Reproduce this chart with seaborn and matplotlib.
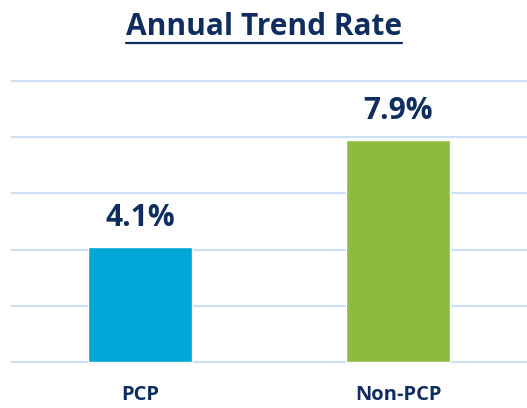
import pandas as pd
import seaborn as sns
import matplotlib.pyplot as plt

sns.set_style("white")
plt.rcParams['font.family'] = ['Open Sans', 'DejaVu Sans']

# values (percent)
groups = ["PCP", "Non-PCP"]
trend = [4.1, 7.9]
labels = ["4.1%", "7.9%"]
bar_colors = ["#00A6D6", "#8DBB3F"]
grid_ticks = [0, 2, 4, 6, 8, 10]

navy = "#0F2D5F"
df = pd.DataFrame({"group": groups, "trend": trend})

fig = plt.figure(figsize=(5.27, 4.08), dpi=100)
ax = fig.add_axes([0.021, 0.106, 0.979, 0.702])

sns.barplot(data=df, x="group", y="trend", hue="group", palette=bar_colors,
            width=0.4, saturation=1, legend=False, ax=ax, zorder=3)

ax.set_xlim(-0.5, 1.5)
ax.set_ylim(-0.1, 10.1)
ax.set_yticks(grid_ticks)
ax.yaxis.grid(True, color="#CCE0F7", linewidth=1.6, zorder=0)
ax.set_axisbelow(True)
ax.tick_params(axis="y", left=False, labelleft=False)
ax.tick_params(axis="x", bottom=False, pad=11)
for lbl in ax.get_xticklabels():
    lbl.set_fontsize(14.5)
    lbl.set_fontweight("bold")
    lbl.set_color(navy)
ax.set_xlabel("")
ax.set_ylabel("")
sns.despine(ax=ax, left=True, bottom=True)

# value labels above the bars
for i, (v, txt) in enumerate(zip(trend, labels)):
    ax.text(i, v + 0.75, txt, ha="center", va="baseline", fontsize=21.5,
            fontweight="bold", color=navy)

# underlined title
t = fig.text(0.5, 0.915, "Annual Trend Rate", ha="center", va="baseline",
             fontsize=21.5, fontweight="bold", color=navy)
fig.canvas.draw()
bb = t.get_window_extent().transformed(fig.transFigure.inverted())
fig.add_artist(plt.Line2D([bb.x0, bb.x1], [0.895, 0.895], color=navy,
                          linewidth=1.6, transform=fig.transFigure))

fig.savefig("out.png", dpi=100)
